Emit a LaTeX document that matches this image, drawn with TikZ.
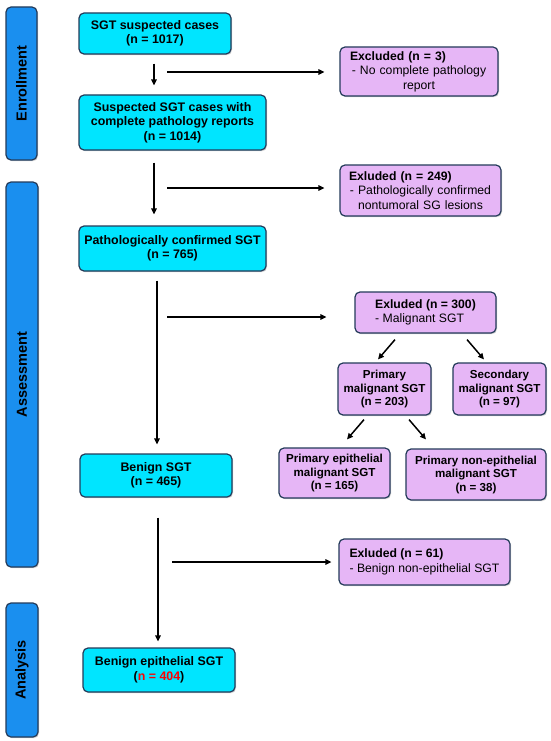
\documentclass[tikz,border=0pt]{standalone}
\usepackage{fontspec}
\setmainfont{Liberation Sans}
\usetikzlibrary{arrows.meta,shadows,calc}
\definecolor{cyanbox}{HTML}{00E5FF}
\definecolor{purplebox}{HTML}{E6B6F6}
\definecolor{barblue}{HTML}{1A8FEF}
\definecolor{edgeblue}{HTML}{243B5A}
\hyphenpenalty=10000
\tikzset{
  box/.style={draw=edgeblue, line width=1.2pt, rounded corners=5pt, inner sep=2pt, align=center,
    font=\bfseries\fontsize{12.4}{14.5}\selectfont,
    drop shadow={shadow xshift=1pt, shadow yshift=-1.2pt, opacity=0.35}},
  mainbox/.style={box, fill=cyanbox},
  exbox/.style={box, fill=purplebox, font=\fontsize{12.2}{14.5}\selectfont},
  subbox/.style={box, fill=purplebox, font=\bfseries\fontsize{11.6}{13.5}\selectfont},
  sidebar/.style={draw=edgeblue, line width=1.2pt, fill=barblue, rounded corners=5pt, rotate=90,
    font=\bfseries\fontsize{14.5}{16}\selectfont,
    drop shadow={shadow xshift=1pt, shadow yshift=-1.2pt, opacity=0.35}},
  arr/.style={-{Triangle[length=6pt,width=5.5pt]}, line width=1.5pt}
}
\begin{document}
\begin{tikzpicture}[x=1pt,y=-1pt]
\useasboundingbox (0,0) rectangle (550,741);
\fill[white] (0,0) rectangle (550,741);

% side bars
\node[sidebar, minimum width=153pt, minimum height=31pt] (enr) at (21.5,83.5) {Enrollment};
\node[sidebar, minimum width=385pt, minimum height=32pt] (ass) at (22,374.5) {Assessment};
\node[sidebar, minimum width=134pt, minimum height=32pt] (ana) at (22,670) {Analysis};

% main column
\node[mainbox, minimum width=152pt, minimum height=41pt] (b1) at (155,33.5) {SGT suspected cases\\(n = 1017)};
\node[mainbox, minimum width=187pt, minimum height=55pt] (b2) at (172.5,122.5) {Suspected SGT cases with\\complete pathology reports\\(n = 1014)};
\node[mainbox, minimum width=187pt, minimum height=45pt] (b3) at (172.5,248.5) {Pathologically confirmed SGT\\(n = 765)};
\node[mainbox, minimum width=152pt, minimum height=43pt] (b4) at (156,475.5) {Benign SGT\\(n = 465)};
\node[mainbox, minimum width=152pt, minimum height=44pt] (b5) at (159,670) {Benign epithelial SGT\\(\textcolor{red}{n = 404})};

% excluded boxes
\node[exbox, text width=142pt, inner xsep=8pt, minimum height=49pt] (e1) at (419,71.5)
  {\makebox[142pt][l]{\hspace{2pt}\textbf{Excluded (n = 3)}}\\- No complete pathology\\report};
\node[exbox, text width=147pt, inner xsep=7pt, minimum height=51pt] (e2) at (420.5,190.5)
  {\makebox[147pt][l]{\hspace{2pt}\textbf{Exluded (n = 249)}}\\- Pathologically confirmed\\nontumoral SG lesions};
\node[exbox, align=left, minimum width=141pt, minimum height=41pt] (e3) at (425.5,312.5)
  {\textbf{Exluded (n = 300)}\\- Malignant SGT};
\node[exbox, align=left, minimum width=171pt, minimum height=46pt] (e4) at (424.5,562)
  {\textbf{Exluded (n = 61)}\\- Benign non-epithelial SGT};

% malignant breakdown
\node[subbox, minimum width=93pt, minimum height=52pt] (pm) at (384.5,389) {Primary\\malignant SGT\\(n = 203)};
\node[subbox, minimum width=93pt, minimum height=52pt] (sm) at (499.5,389) {Secondary\\malignant SGT\\(n = 97)};
\node[subbox, minimum width=111pt, minimum height=50pt] (pe) at (334.5,473) {Primary epithelial\\malignant SGT\\(n = 165)};
\node[subbox, minimum width=140pt, minimum height=51pt] (pn) at (476,474.5) {Primary non-epithelial\\malignant SGT\\(n = 38)};

% vertical arrows
\coordinate (v1) at (154,0);
\coordinate (v3) at (157,0);
\coordinate (v4) at (158,0);
\draw[arr, shorten <=9pt, shorten >=9pt] (b1.south -| v1) -- (b2.north -| v1);
\draw[arr, shorten <=12pt, shorten >=11pt] (b2.south -| v1) -- (b3.north -| v1);
\draw[arr, shorten <=9pt, shorten >=9pt] (b3.south -| v3) -- (b4.north -| v3);
\draw[arr, shorten <=20pt, shorten >=6pt] (b4.south -| v4) -- (b5.north -| v4);

% horizontal arrows
\coordinate (h1) at (167,72);
\coordinate (h2) at (167,188);
\coordinate (h3) at (167,317);
\coordinate (h4) at (172,562);
\draw[arr, shorten >=15pt] (h1) -- (h1 -| e1.west);
\draw[arr, shorten >=15pt] (h2) -- (h2 -| e2.west);
\draw[arr, shorten >=28pt] (h3) -- (h3 -| e3.west);
\draw[arr, shorten >=7pt] (h4) -- (h4 -| e4.west);

% diagonal arrows
\draw[arr] ($(e3.south)+(-30.5,6)$) -- ($(pm.north)+(-6.5,-3)$);
\draw[arr] ($(e3.south)+(41.5,6)$) -- ($(sm.north)+(-15.5,-3)$);
\draw[arr] ($(pm.south)+(-20.5,4)$) -- ($(pe.north)+(12.5,-8)$);
\draw[arr] ($(pm.south)+(24.5,4)$) -- ($(pn.north)+(-50,-9)$);
\end{tikzpicture}
\end{document}
